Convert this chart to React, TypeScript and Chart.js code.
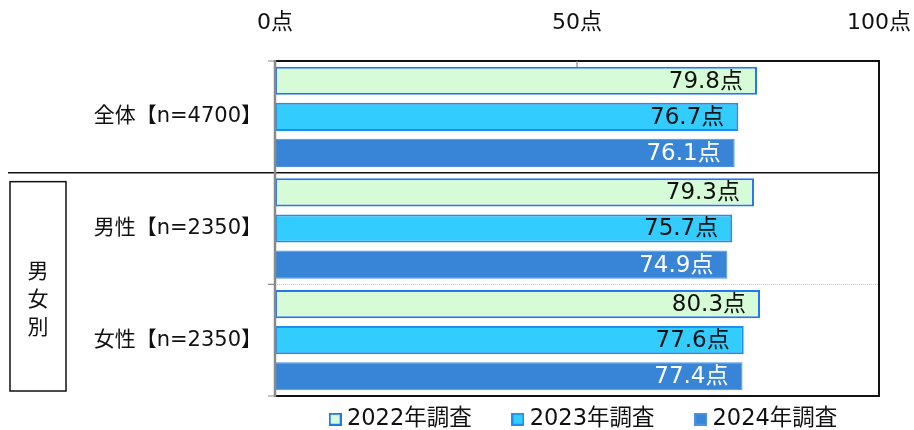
import React, { useEffect, useRef } from "react";
import { Chart, registerables } from "chart.js";

Chart.register(...registerables);

const categories = ["全体【n=4700】", "男性【n=2350】", "女性【n=2350】"];
const seriesLabels = ["2022年調査", "2023年調査", "2024年調査"];
const values2022 = [79.8, 79.3, 80.3];
const values2023 = [76.7, 75.7, 77.6];
const values2024 = [76.1, 74.9, 77.4];
const xMin = 0;
const xMax = 100;
const xStep = 50;
const unit = "点";
const groupLabel = ["男", "女", "別"];

const FONT = "'DejaVu Sans', 'Noto Sans CJK JP', sans-serif";

function makeBox(fill: string, stroke: string) {
  const c = document.createElement("canvas");
  c.width = 13;
  c.height = 13;
  const g = c.getContext("2d")!;
  g.fillStyle = fill;
  g.fillRect(0, 0, 13, 13);
  g.strokeStyle = stroke;
  g.lineWidth = 2;
  g.strokeRect(1, 1, 11, 11);
  return c;
}

const overlay = {
  id: "overlay",
  afterLayout(chart: any) {
    const lg = chart.legend;
    if (lg) {
      lg.left += 9;
      lg.right += 9;
      lg.top += 3;
      lg.bottom += 3;
    }
  },
  beforeDatasetsDraw(chart: any) {
    const { ctx, chartArea } = chart;
    const { left, right } = chartArea;
    const ys = chart.scales.y;
    const sep1 = (ys.getPixelForValue(1) + ys.getPixelForValue(2)) / 2;
    ctx.save();
    ctx.strokeStyle = "#c8c8c8";
    ctx.lineWidth = 1;
    ctx.setLineDash([1, 1]);
    ctx.beginPath();
    ctx.moveTo(left, Math.round(sep1) + 0.5);
    ctx.lineTo(right, Math.round(sep1) + 0.5);
    ctx.stroke();
    ctx.restore();
  },
  afterDatasetsDraw(chart: any) {
    const { ctx, chartArea } = chart;
    const { left, right, top, bottom } = chartArea;
    const ys = chart.scales.y;
    const xs = chart.scales.x;
    const sep0 = (ys.getPixelForValue(0) + ys.getPixelForValue(1)) / 2;
    const sep1 = (ys.getPixelForValue(1) + ys.getPixelForValue(2)) / 2;
    ctx.save();
    // value labels
    ctx.font = `23px ${FONT}`;
    ctx.textAlign = "right";
    ctx.textBaseline = "middle";
    chart.data.datasets.forEach((ds: any, di: number) => {
      const meta = chart.getDatasetMeta(di);
      meta.data.forEach((el: any, i: number) => {
        ctx.fillStyle = di === 2 ? "#ffffff" : "#111111";
        ctx.fillText(ds.data[i].toFixed(1) + unit, el.x - 14, el.y + 1);
      });
    });
    // frame
    ctx.lineCap = "butt";
    ctx.strokeStyle = "#111";
    ctx.lineWidth = 2;
    ctx.beginPath();
    ctx.moveTo(left, top);
    ctx.lineTo(right, top);
    ctx.lineTo(right, bottom);
    ctx.lineTo(left, bottom);
    ctx.stroke();
    // black group separator
    ctx.lineWidth = 1.5;
    ctx.beginPath();
    ctx.moveTo(8, sep0);
    ctx.lineTo(right, sep0);
    ctx.stroke();
    // left axis
    ctx.strokeStyle = "#8a8a8a";
    ctx.lineWidth = 2.5;
    ctx.beginPath();
    ctx.moveTo(left, top - 1);
    ctx.lineTo(left, bottom + 1);
    ctx.stroke();
    // tick marks
    ctx.lineWidth = 1.2;
    ctx.beginPath();
    [top, sep1, bottom].forEach((y) => {
      ctx.moveTo(left - 7, y);
      ctx.lineTo(left, y);
    });
    const xm = xs.getPixelForValue(50);
    ctx.moveTo(xm, top);
    ctx.lineTo(xm, top + 6);
    ctx.stroke();
    // group box
    ctx.strokeStyle = "#111";
    ctx.lineWidth = 1.5;
    const bTop = sep0 + 9;
    const bBot = bottom - 5;
    ctx.strokeRect(10, bTop, 56, bBot - bTop);
    ctx.fillStyle = "#111";
    ctx.font = `21px 'Noto Sans CJK JP', sans-serif`;
    ctx.textAlign = "center";
    ctx.textBaseline = "middle";
    const cy = (bTop + bBot) / 2 + 12;
    groupLabel.forEach((ch, i) => {
      ctx.fillText(ch, 38, cy + (i - 1) * 28);
    });
    ctx.restore();
  },
};

export default function App() {
  const ref = useRef<HTMLCanvasElement>(null);
  useEffect(() => {
    if (!ref.current) return;
    const colors = [
      { bg: "#d6fcd7", bd: "#2277ee", w: 2 },
      { bg: "#33ccff", bd: "#1e8ff0", w: 2 },
      { bg: "#3884d6", bd: "#4a92e0", w: 1 },
    ];
    const boxes = colors.map((c) => makeBox(c.bg, c.bd));
    const chart = new Chart(ref.current, {
      type: "bar",
      data: {
        labels: categories,
        datasets: [values2022, values2023, values2024].map((vals, i) => ({
          label: seriesLabels[i],
          data: vals,
          backgroundColor: colors[i].bg,
          borderColor: colors[i].bd,
          borderWidth: colors[i].w,
          borderSkipped: false,
        })),
      },
      options: {
        animation: false,
        responsive: false,
        indexAxis: "y",
        layout: { padding: { left: 0, right: 35, top: 0, bottom: 0 } },
        datasets: { bar: { categoryPercentage: 0.97, barPercentage: 0.78 } },
        scales: {
          x: {
            position: "top",
            min: xMin,
            max: xMax,
            grid: { display: false },
            border: { display: false },
            ticks: {
              stepSize: xStep,
              padding: 17,
              color: "#111",
              font: { size: 22, family: FONT },
              callback: (v: any) => v + unit,
            },
            afterFit: (s: any) => {
              s.height = 61;
              s.paddingLeft = 0;
              s.paddingRight = 0;
            },
          },
          y: {
            grid: { display: false },
            border: { display: false },
            ticks: {
              padding: 5,
              color: "#111",
              font: { size: 21, family: FONT },
            },
            afterFit: (s: any) => {
              s.width = 275;
              s.paddingTop = 0;
              s.paddingBottom = 0;
            },
          },
        },
        plugins: {
          tooltip: { enabled: false },
          legend: {
            position: "bottom",
            fullSize: false,
            maxHeight: 34,
            labels: {
              color: "#111",
              usePointStyle: true,
              pointStyleWidth: 1,
              boxHeight: 13,
              padding: 9,
              font: { size: 22.5, family: FONT },
              generateLabels: (chart: any) =>
                chart.data.datasets.map((ds: any, i: number) => ({
                  text: ds.label + (i < 2 ? "\u3000  " : ""),
                  fillStyle: ds.backgroundColor,
                  strokeStyle: ds.borderColor,
                  lineWidth: 0,
                  pointStyle: boxes[i],
                  hidden: false,
                  datasetIndex: i,
                  fontColor: "#111",
                })),
            },
          },
        },
      },
      plugins: [overlay],
    });
    return () => chart.destroy();
  }, []);
  return (
    <div style={{ position: "fixed", left: 0, top: 0, width: 914, height: 430, background: "#fff" }}>
      <canvas ref={ref} width={914} height={430} />
    </div>
  );
}
